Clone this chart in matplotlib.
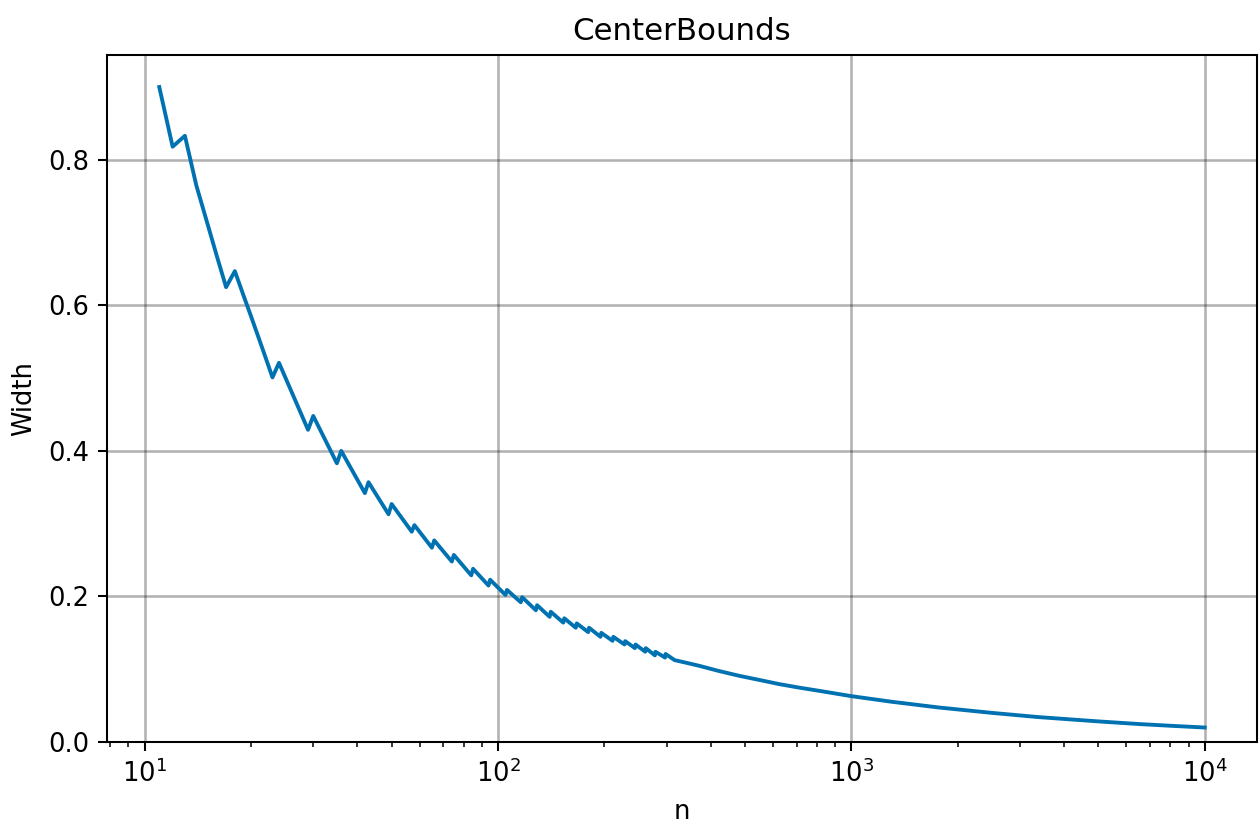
import numpy as np
import matplotlib.pyplot as plt

# Values (n, interval width)
n = [11, 12, 13, 14, 15, 16, 17, 18, 19, 20, 21, 22, 23, 24, 29, 30, 35, 36,
     42, 43, 49, 50, 57, 58, 65, 66, 74, 75, 84, 85, 94, 95, 105, 106,
     116, 117, 128, 129, 140, 141, 153, 154, 166, 167, 180, 181, 195, 196,
     211, 212, 228, 229, 244, 245, 261, 262, 278, 279, 297, 298, 316,
     340, 371, 420, 481, 550, 624, 710, 809, 1000, 1300, 1769, 2500, 3388,
     5000, 6501, 8000, 10000]
width = [0.900, 0.818, 0.833, 0.765, 0.715, 0.668, 0.625, 0.647, 0.615, 0.585,
         0.556, 0.528, 0.501, 0.521, 0.429, 0.448, 0.383, 0.400,
         0.342, 0.357, 0.313, 0.327, 0.289, 0.298, 0.267, 0.277, 0.248, 0.257,
         0.229, 0.238, 0.215, 0.223, 0.202, 0.209,
         0.192, 0.199, 0.181, 0.188, 0.172, 0.179, 0.164, 0.170, 0.157, 0.163,
         0.151, 0.157, 0.1445, 0.150,
         0.139, 0.1445, 0.134, 0.1386, 0.129, 0.134, 0.124, 0.129, 0.119, 0.124,
         0.116, 0.121, 0.1125,
         0.109, 0.1047, 0.0978, 0.091, 0.0852, 0.0796, 0.0748, 0.0704, 0.0630,
         0.0553, 0.0474, 0.0400, 0.0342, 0.0283, 0.0247, 0.0223, 0.0199]

dpi = 185
fig = plt.figure(figsize=(1259 / dpi, 823 / dpi), dpi=dpi)
ax = fig.add_axes([107 / 1259, 1 - 742 / 823, 1150 / 1259, 687 / 823])

ax.plot(n, width, color='#0072B2', linewidth=1.5)
ax.set_xscale('log')
ax.set_ylim(bottom=0)
ax.grid(True, which='major', color='k', alpha=0.3, linewidth=1)
ax.set_xlabel('n')
ax.set_ylabel('Width')
ax.set_title('CenterBounds')

fig.savefig('out.png', dpi=dpi)
